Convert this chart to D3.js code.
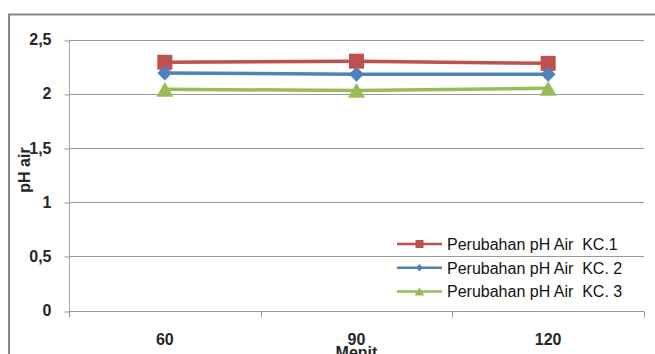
<!DOCTYPE html>
<html>
<head>
<meta charset="utf-8">
<script src="https://cdn.jsdelivr.net/npm/d3@7/dist/d3.min.js"></script>
<style>
  html, body { margin: 0; padding: 0; background: #fff; }
  svg { display: block; }
  text { font-family: "Liberation Sans", Arial, sans-serif; }
</style>
</head>
<body>
<div id="chart"></div>
<script>
// pH of water over time, three treatments
const minutes = ["60", "90", "120"];
const seriesNames = ["Perubahan pH Air  KC.1", "Perubahan pH Air  KC. 2", "Perubahan pH Air  KC. 3"];
const kc1 = [2.29, 2.30, 2.28];
const kc2 = [2.19, 2.18, 2.18];
const kc3 = [2.04, 2.03, 2.05];
const yTicks = [0, 0.5, 1, 1.5, 2, 2.5];
const xTitle = "Menit";
const yTitle = "pH air";

const colors = ["#C0504D", "#4F81BD", "#9BBB59"];
const markers = ["square", "diamond", "triangle"];
const series = [kc1, kc2, kc3].map((values, i) => ({
  name: seriesNames[i], values, color: colors[i], marker: markers[i]
}));

// marker shape generator: diamond is a square turned 45 degrees
function markerPath(kind, big) {
  if (kind === "square") return d3.symbol().type(d3.symbolSquare).size(big ? 225 : 64)();
  if (kind === "diamond") return d3.symbol().type(d3.symbolSquare).size(big ? 112 : 26)();
  return d3.symbol().type(d3.symbolTriangle).size(big ? 125 : 40)();
}
function markerTransform(kind, px, py, big) {
  if (kind === "diamond") return `translate(${px},${py}) rotate(45)`;
  if (kind === "triangle") return `translate(${px},${py + (big ? 2.45 : 1.4)})`;
  return `translate(${px},${py})`;
}

const W = 655, H = 354;
const plot = { left: 69, right: 644, top: 39.5, bottom: 310.5 };

const svg = d3.select("#chart").append("svg")
  .attr("width", W).attr("height", H);

// outer chart frame (runs past the right and bottom edges)
svg.append("rect")
  .attr("x", 9).attr("y", 14.5)
  .attr("width", 680).attr("height", 400)
  .attr("fill", "none").attr("stroke", "#878787").attr("stroke-width", 2);

const x = d3.scaleBand().domain(minutes).range([plot.left, plot.right]);
const y = d3.scaleLinear().domain([0, 2.5]).range([plot.bottom, plot.top]);
const fmt = v => String(v).replace(".", ",");

// horizontal gridlines
svg.append("g").selectAll("line").data(yTicks.filter(t => t > 0)).join("line")
  .attr("x1", plot.left).attr("x2", plot.right)
  .attr("y1", d => Math.round(y(d)) + 0.5).attr("y2", d => Math.round(y(d)) + 0.5)
  .attr("stroke", "#999").attr("stroke-width", 1);

// y axis
const yAxis = svg.append("g")
  .attr("transform", `translate(${plot.left + 0.5},0)`)
  .call(d3.axisLeft(y).tickValues(yTicks).tickFormat(fmt).tickSize(5).tickPadding(13));
yAxis.select(".domain").attr("stroke", "#a6a6a6").attr("d", `M0,${plot.top}V${plot.bottom + 6}`);
yAxis.selectAll(".tick line").attr("stroke", "#999")
  .attr("transform", d => `translate(0,${Math.round(y(d)) + 0.5 - y(d)})`);
yAxis.selectAll(".tick text")
  .attr("font-size", 16).attr("font-weight", "bold").attr("fill", "#262626")
  .attr("font-family", "'Liberation Sans', Arial, sans-serif");

// x axis
const xAxis = svg.append("g")
  .attr("transform", `translate(0,${Math.round(plot.bottom) + 0.5})`)
  .call(d3.axisBottom(x).tickSize(0).tickPadding(0));
xAxis.select(".domain").attr("stroke", "#999").attr("d", `M${plot.left},0H${plot.right}`);
xAxis.selectAll(".tick text")
  .attr("y", 0).attr("dy", null)
  .attr("transform", "translate(0,33)")
  .attr("font-size", 16).attr("font-weight", "bold").attr("fill", "#262626")
  .attr("font-family", "'Liberation Sans', Arial, sans-serif");
// category boundary tick marks
const bounds = minutes.map(m => x(m)).concat([x(minutes[minutes.length - 1]) + x.bandwidth()]);
xAxis.append("g").selectAll("line").data(bounds).join("line")
  .attr("x1", d => Math.round(d) + 0.5).attr("x2", d => Math.round(d) + 0.5)
  .attr("y1", 0).attr("y2", 6)
  .attr("stroke", "#999");

// axis titles
svg.append("text")
  .attr("x", (plot.left + plot.right) / 2).attr("y", 358)
  .attr("text-anchor", "middle")
  .attr("font-size", 16).attr("font-weight", "bold").attr("fill", "#262626")
  .text(xTitle);
svg.append("text")
  .attr("transform", "translate(30,170) rotate(-90)")
  .attr("text-anchor", "middle")
  .attr("font-size", 16).attr("font-weight", "bold").attr("fill", "#262626")
  .text(yTitle);

// lines and markers
const cx = m => x(m) + x.bandwidth() / 2;
const line = d3.line().x((d, i) => cx(minutes[i])).y(d => y(d));

series.forEach(s => {
  svg.append("path")
    .datum(s.values)
    .attr("d", line)
    .attr("fill", "none").attr("stroke", s.color).attr("stroke-width", 3.5);
});
series.forEach(s => {
  svg.append("g").selectAll("path").data(s.values).join("path")
    .attr("transform", (d, i) => markerTransform(s.marker, cx(minutes[i]), y(d), true))
    .attr("d", markerPath(s.marker, true))
    .attr("fill", s.color);
});

// legend
const legend = svg.append("g").attr("transform", "translate(397,244)");
series.forEach((s, i) => {
  const g = legend.append("g").attr("transform", `translate(0,${i * 23.7})`);
  g.append("line").attr("x1", 0).attr("x2", 45).attr("y1", 0).attr("y2", 0)
    .attr("stroke", s.color).attr("stroke-width", 2.5);
  g.append("path").attr("transform", markerTransform(s.marker, 22.5, 0, false))
    .attr("d", markerPath(s.marker, false)).attr("fill", s.color);
  g.append("text").attr("x", 50).attr("y", 6)
    .attr("font-size", 16).attr("fill", "#111")
    .style("white-space", "pre")
    .text(s.name);
});
</script>
</body>
</html>
